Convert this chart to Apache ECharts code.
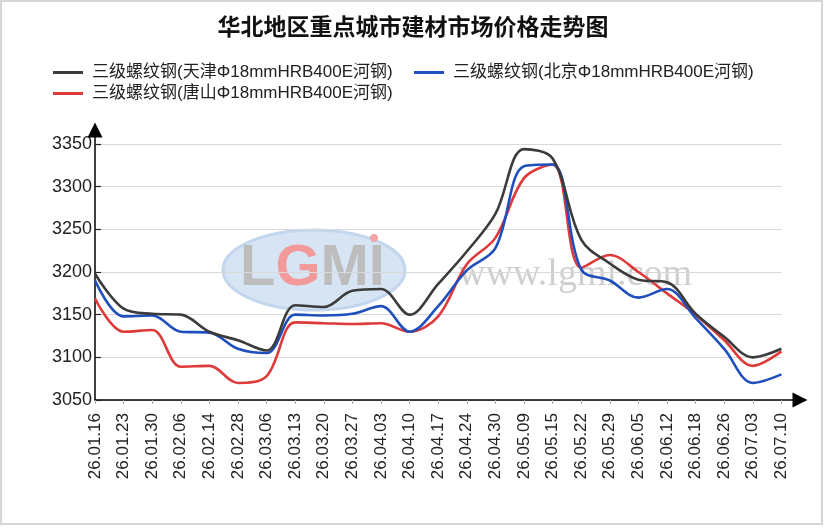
<!DOCTYPE html>
<html>
<head>
<meta charset="utf-8">
<title>华北地区重点城市建材市场价格走势图</title>
<script src="https://cdn.jsdelivr.net/npm/echarts@6.0.0/dist/echarts.min.js"></script>
<style>
    html, body { margin: 0; padding: 0; background: #fff; }
    #main { width: 826px; height: 528px; }
</style>
</head>
<body>
<div id="main"></div>
<script>
// 日期（周）
var categories = ['26.01.16', '26.01.23', '26.01.30', '26.02.06', '26.02.14', '26.02.28', '26.03.06',
    '26.03.13', '26.03.20', '26.03.27', '26.04.03', '26.04.10', '26.04.17', '26.04.24', '26.04.30',
    '26.05.09', '26.05.15', '26.05.22', '26.05.29', '26.06.05', '26.06.12', '26.06.18', '26.06.26',
    '26.07.03', '26.07.10'];

// 三地价格（元/吨）
var tianjin = [3198, 3157, 3151, 3150, 3130, 3120, 3108, 3161, 3159, 3178, 3180, 3150, 3186, 3224, 3268,
    3344, 3333, 3238, 3210, 3191, 3188, 3151, 3124, 3100, 3110];
var beijing = [3190, 3148, 3149, 3130, 3129, 3110, 3105, 3150, 3149, 3151, 3160, 3130, 3160, 3202, 3228,
    3324, 3326, 3203, 3190, 3170, 3180, 3146, 3110, 3070, 3080];
var tangshan = [3169, 3130, 3132, 3089, 3090, 3070, 3078, 3141, 3140, 3139, 3140, 3130, 3148, 3209, 3240,
    3310, 3326, 3205, 3220, 3200, 3175, 3150, 3120, 3090, 3107];

var yTicks = { min: 3050, max: 3350, interval: 50 };

var seriesNames = ['三级螺纹钢(天津Φ18mmHRB400E河钢)', '三级螺纹钢(北京Φ18mmHRB400E河钢)', '三级螺纹钢(唐山Φ18mmHRB400E河钢)'];
var seriesColors = ['#3b3b3b', '#1f4fbd', '#de3a3a'];
var seriesData = [tianjin, beijing, tangshan];

var fontLatin = "'Liberation Sans', Arial, 'Noto Sans CJK SC', sans-serif";

var myChart = echarts.init(document.getElementById('main'));

// 每个图例单独放，位置和原图一致
function legendAt(name, left, top) {
    return {
        data: [name],
        left: left,
        top: top,
        padding: 0,
        icon: 'rect',
        itemWidth: 30,
        itemHeight: 3,
        selectedMode: false,
        textStyle: {
            fontFamily: fontLatin,
            fontSize: 17,
            color: '#222',
            padding: [0, 0, 0, 4]
        }
    };
}

var option = {
    animation: false,
    backgroundColor: '#fff',
    title: {
        text: '华北地区重点城市建材市场价格走势图',
        left: 'center',
        top: 10,
        textStyle: {
            fontFamily: "'Noto Sans CJK SC', sans-serif",
            fontSize: 23,
            fontWeight: 'bold',
            color: '#111'
        }
    },
    legend: [
        legendAt(seriesNames[0], 53, 64),
        legendAt(seriesNames[1], 414, 64),
        legendAt(seriesNames[2], 53, 85)
    ],
    grid: [
        // 数据区
        { left: 95, right: 44.6, top: 144, bottom: 128 },
        // 只用来画带箭头的坐标轴线
        { left: 95, right: 26, top: 130, bottom: 128 }
    ],
    xAxis: [
        {
            type: 'category',
            gridIndex: 0,
            boundaryGap: false,
            data: categories,
            axisLine: { show: false },
            axisTick: { show: true, inside: false, length: 4, lineStyle: { color: '#aaa' } },
            axisLabel: {
                rotate: 90,
                interval: 0,
                margin: 13,
                fontFamily: fontLatin,
                fontSize: 17,
                color: '#222'
            },
            splitLine: { show: false }
        },
        {
            type: 'value',
            gridIndex: 1,
            min: 0,
            max: 1,
            axisLine: {
                show: true,
                symbol: ['none', 'triangle'],
                symbolSize: [15, 15],
                lineStyle: { color: '#000', width: 1.5 }
            },
            axisTick: { show: false },
            axisLabel: { show: false },
            splitLine: { show: false }
        }
    ],
    yAxis: [
        {
            type: 'value',
            gridIndex: 0,
            min: yTicks.min,
            max: yTicks.max,
            interval: yTicks.interval,
            axisLine: { show: false },
            axisTick: { show: true, inside: true, length: 6, lineStyle: { color: '#222', width: 1.2 } },
            axisLabel: {
                margin: 3,
                fontFamily: fontLatin,
                fontSize: 18,
                color: '#222',
                formatter: function (v) { return String(v); }
            },
            splitLine: { show: true, lineStyle: { color: '#d9d9d9', width: 1 } }
        },
        {
            type: 'value',
            gridIndex: 1,
            min: 0,
            max: 1,
            axisLine: {
                show: true,
                symbol: ['none', 'triangle'],
                symbolSize: [15, 15],
                lineStyle: { color: '#000', width: 1.5 }
            },
            axisTick: { show: false },
            axisLabel: { show: false },
            splitLine: { show: false }
        }
    ],
    // 水印和外框
    graphic: [
        {
            type: 'rect',
            silent: true,
            z: -10,
            shape: { x: 1, y: 1, width: 821, height: 523 },
            style: { fill: 'none', stroke: '#d6d6d6', lineWidth: 2 }
        },
        {
            type: 'ellipse',
            silent: true,
            z: -5,
            shape: { cx: 314, cy: 270, rx: 91, ry: 40 },
            style: { fill: '#d6e4f4', stroke: '#c2d6ee', lineWidth: 3 }
        },
        {
            type: 'text',
            silent: true,
            z: -4,
            left: 240,
            top: 240,
            style: {
                text: '{a|L}{b|G}{a|MI}',
                rich: {
                    a: { fontFamily: fontLatin, fontWeight: 'bold', fontSize: 58, fill: '#bdbdbd' },
                    b: { fontFamily: fontLatin, fontWeight: 'bold', fontSize: 58, fill: '#f29a9a' }
                }
            }
        },
        {
            type: 'circle',
            silent: true,
            z: -4,
            shape: { cx: 374, cy: 238, r: 4 },
            style: { fill: '#f4a6a6' }
        },
        {
            type: 'text',
            silent: true,
            z: -4,
            left: 458,
            top: 256,
            style: {
                text: 'www.lgmi.com',
                fontFamily: "'Liberation Serif', 'DejaVu Serif', serif",
                fontSize: 38,
                fill: '#cfcfcf'
            }
        }
    ],
    series: seriesNames.map(function (name, i) {
        return {
            name: name,
            type: 'line',
            xAxisIndex: 0,
            yAxisIndex: 0,
            smooth: 0.35,
            symbol: 'none',
            data: seriesData[i],
            lineStyle: { color: seriesColors[i], width: 2.6 },
            itemStyle: { color: seriesColors[i] },
            z: 3 + (2 - i)
        };
    })
};

myChart.setOption(option);
</script>
</body>
</html>
